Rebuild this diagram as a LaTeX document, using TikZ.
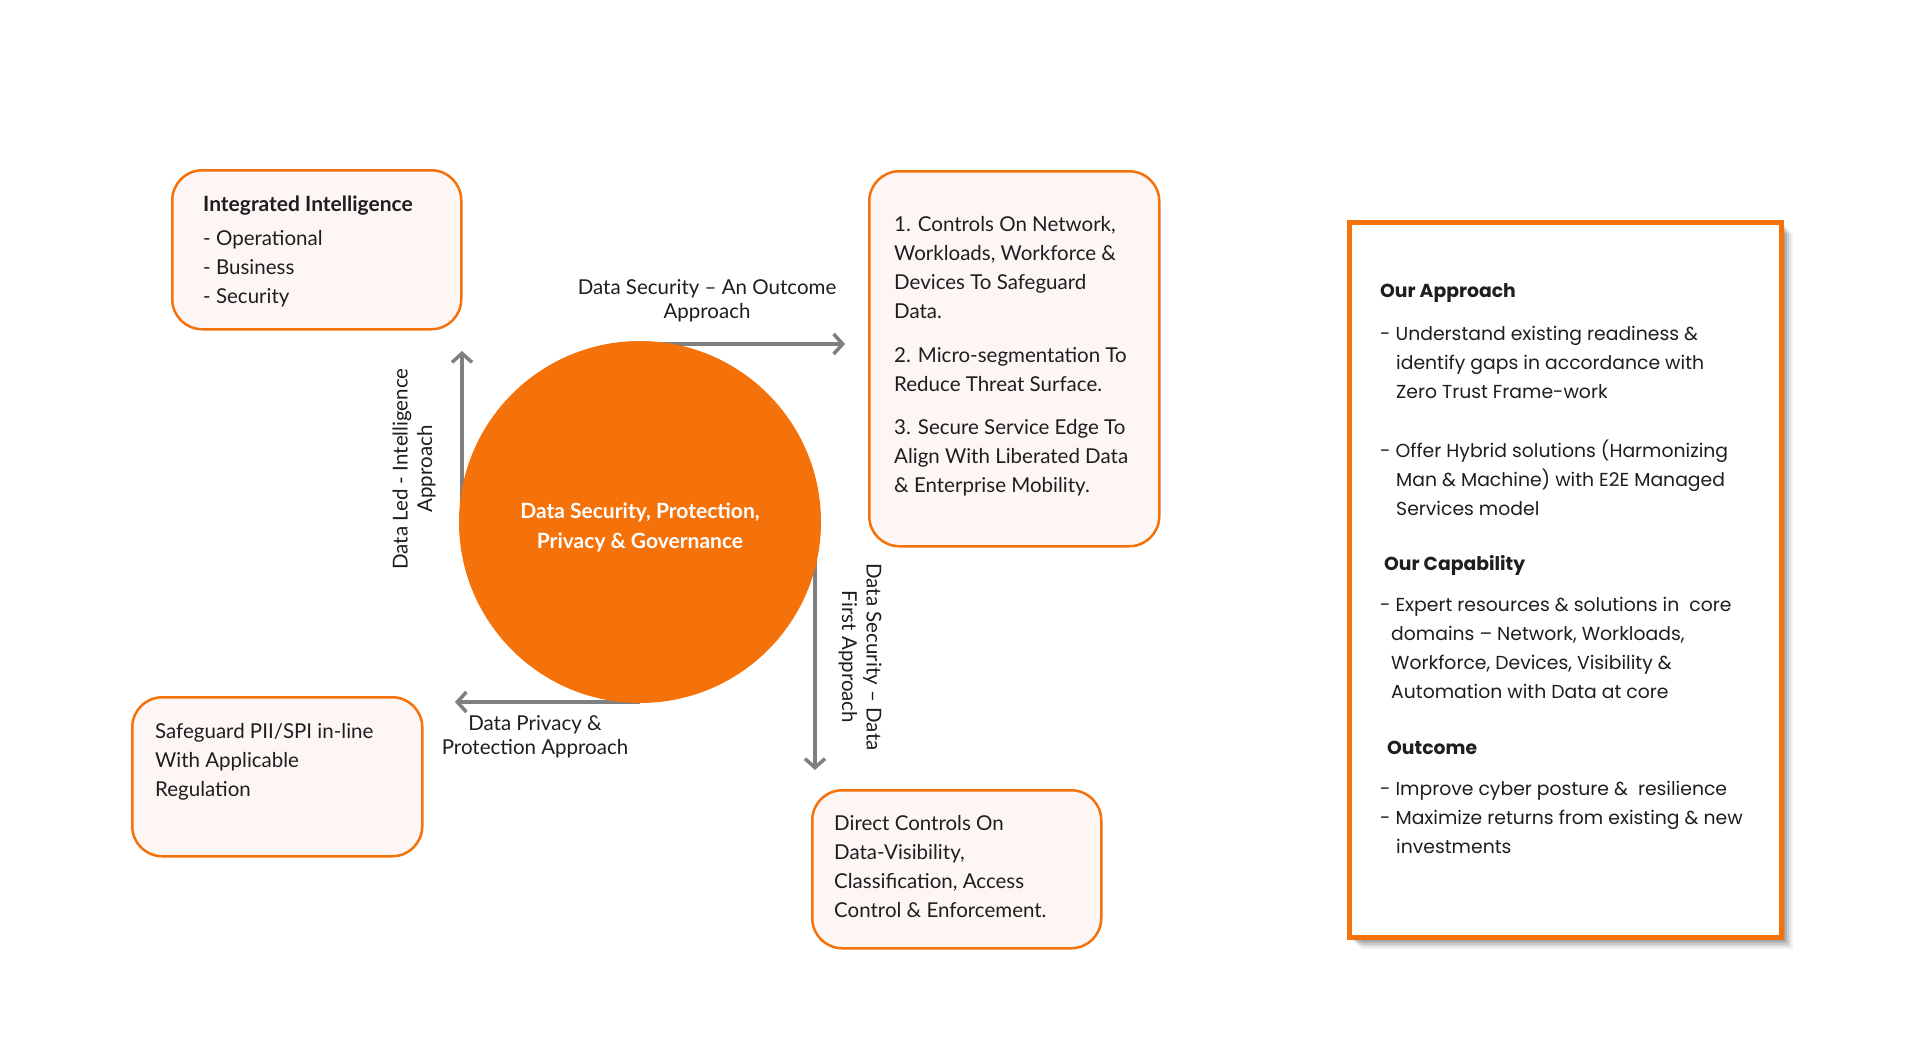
\documentclass[tikz,border=0pt]{standalone}
\usepackage{fontspec}
\setmainfont{Lato}
\newfontfamily\panelfont{Poppins}
\usetikzlibrary{arrows.meta,calc}
\definecolor{orangeA}{HTML}{F5720A}
\definecolor{boxfill}{HTML}{FDF6F5}
\definecolor{arrowgray}{HTML}{7F7F7F}
\definecolor{txt}{HTML}{1E1E1E}
\pgfdeclarelayer{bg}
\pgfdeclarelayer{paper}
\pgfsetlayers{paper,bg,main}
\begin{document}
\begin{tikzpicture}[x=1pt,y=-1pt,
  infobox/.style={draw=orangeA, line width=2.5pt, fill=boxfill, rounded corners=30pt, anchor=north west, inner sep=0pt},
  boxtext/.style={anchor=north west, inner sep=0pt, align=left, text=txt, font=\fontsize{20.5}{29}\selectfont},
  lbl/.style={inner sep=0pt, align=center, text=txt, font=\fontsize{20.5}{24.5}\selectfont},
  flow/.style={draw=arrowgray, line width=3.5pt, -{Straight Barb[length=9pt,width=20pt]}},
  core/.style={circle, fill=orangeA, minimum size=362pt, inner sep=0pt, align=center, text=white, font=\bfseries\fontsize{21}{30}\selectfont}
]
\useasboundingbox (0,0) rectangle (1920,1058);
\begin{pgfonlayer}{paper}
\fill[white] (0,0) rectangle (1920,1058);
\end{pgfonlayer}

% central circle
\node[core] (core) at (640,522) {\raisebox{0pt}[\dimexpr\height+10pt\relax][\depth]{\begin{tabular}{@{}c@{}}Data Security, Protection,\\[0pt]Privacy \& Governance\end{tabular}}};

% boxes
\node[infobox, minimum width=289pt, minimum height=159pt] (intel) at (171,169) {};
\node[boxtext] (inteltxt) at (203,191) {\strut\textbf{\fontsize{21}{29}\selectfont Integrated Intelligence}\\[5pt]- Operational\\- Business\\- Security};

\node[infobox, minimum width=290pt, minimum height=375pt] (ctrl) at (868,170) {};
\node[boxtext] (ctrltxt) at (894,211) {\strut 1. Controls On Network,\\Workloads, Workforce \&\\Devices To Safeguard\\Data.\\[15pt]2. Micro-segmentation To\\Reduce Threat Surface.\\[14pt]3. Secure Service Edge To\\Align With Liberated Data\\\& Enterprise Mobility.};

\node[infobox, minimum width=290pt, minimum height=159pt] (pii) at (131,696) {};
\node[boxtext] (piitxt) at (155,718) {\strut Safeguard PII/SPI in-line\\With Applicable\\Regulation};

\node[infobox, minimum width=289pt, minimum height=158pt] (direct) at (811,789) {};
\node[boxtext] (directtxt) at (834,810) {\strut Direct Controls On\\Data-Visibility,\\Classification, Access\\Control \& Enforcement.};

% arrows
\coordinate (utip) at (462,351);
\coordinate (rtip) at (845,344);
\coordinate (dtip) at (815,770);
\coordinate (ltip) at (455,702);
\begin{pgfonlayer}{bg}
\draw[flow] (core.west -| utip) -- (utip);
\draw[flow] (core.north |- rtip) -- (rtip);
\draw[flow] (core.east -| dtip) -- (dtip);
\draw[flow] (core.south |- ltip) -- (ltip);
\end{pgfonlayer}

% arrow labels
\node[lbl] (l1) at (707,301) {Data Security – An Outcome\\Approach};
\node[lbl, rotate=90] (l2) at (414,469) {Data Led - Intelligence\\Approach};
\node[lbl, rotate=-90] (l3) at (860,657) {Data Security – Data\\First Approach};
\node[lbl] (l4) at (535,737) {Data Privacy \&\\Protection Approach};

% right panel with shadow
\foreach \o/\op in {14/0.05,12/0.07,10/0.09,8/0.11,6/0.12}{
  \fill[black, opacity=\op] (1347+\o,220+\o) rectangle (1779+\o,935+\o);
}
\node[draw=orangeA, line width=4.5pt, fill=white, anchor=north west, minimum width=432pt, minimum height=715pt, inner sep=0pt] (panel) at (1347,220) {};
\node[anchor=north west, inner sep=0pt, align=left, text=txt, font=\panelfont\fontsize{18.8}{29}\selectfont] (paneltxt) at (1380,276.5) {\strut\textbf{Our Approach}\\[14pt]
- Understand existing readiness \&\\
\hspace*{16pt}identify gaps in accordance with\\
\hspace*{16pt}Zero Trust Frame-work\\[30pt]
- Offer Hybrid solutions (Harmonizing\\
\hspace*{16pt}Man \& Machine) with E2E Managed\\
\hspace*{16pt}Services model\\[26pt]
\hspace*{4pt}\textbf{Our Capability}\\[12pt]
- Expert resources \& solutions in \ core\\
\hspace*{11pt}domains – Network, Workloads,\\
\hspace*{11pt}Workforce, Devices, Visibility \&\\
\hspace*{11pt}Automation with Data at core\\[27pt]
\hspace*{7pt}\textbf{Outcome}\\[12pt]
- Improve cyber posture \& \ resilience\\
- Maximize returns from existing \& new\\
\hspace*{16pt}investments};
\end{tikzpicture}
\end{document}
